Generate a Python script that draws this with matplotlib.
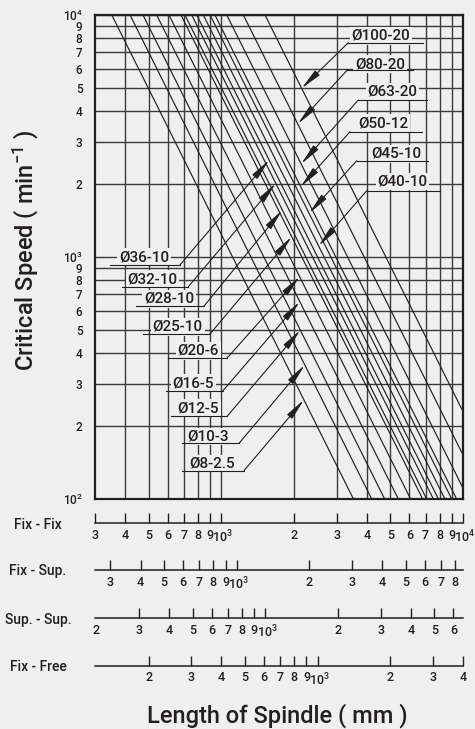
import matplotlib
matplotlib.use('Agg')
import matplotlib.pyplot as plt
from matplotlib.ticker import FixedLocator, FixedFormatter, NullLocator

plt.rcParams['font.family'] = ['Roboto', 'DejaVu Sans']
plt.rcParams['font.weight'] = 'medium'
plt.rcParams['mathtext.fontset'] = 'custom'
plt.rcParams['mathtext.rm'] = 'Roboto:weight=medium'
plt.rcParams['mathtext.it'] = 'Roboto:weight=medium'
plt.rcParams['mathtext.bf'] = 'Roboto:bold'

# screw sizes, smallest to largest
sizes = ['Ø8-2.5', 'Ø10-3', 'Ø12-5', 'Ø16-5', 'Ø20-6', 'Ø25-10', 'Ø28-10',
         'Ø32-10', 'Ø36-10', 'Ø40-10', 'Ø45-10', 'Ø50-12', 'Ø63-20',
         'Ø80-20', 'Ø100-20']
# fix-fix length (mm) where each size reaches 10^4 min^-1
len_at_10k = [352, 419, 474, 540, 607, 681, 707, 754, 791, 842, 898, 941,
              1053, 1233, 1516]

# speed axis
speed_ticks = [100, 200, 300, 400, 500, 600, 700, 800, 900,
               1000, 2000, 3000, 4000, 5000, 6000, 7000, 8000, 9000, 10000]
length_grid = [400, 500, 600, 700, 800, 900, 1000, 2000, 3000, 4000,
               5000, 6000, 7000, 8000, 9000]

# mounting scales under the chart (length factor relative to fix-fix)
mountings = ['Fix - Fix', 'Fix - Sup.', 'Sup. - Sup.', 'Fix - Free']
mount_factor = [1.0, 0.864, 0.657, 0.400]
mount_ticks = [
    [300, 400, 500, 600, 700, 800, 900, 1000, 2000, 3000, 4000, 5000,
     6000, 7000, 8000, 9000, 10000],
    [300, 400, 500, 600, 700, 800, 900, 1000, 2000, 3000, 4000, 5000,
     6000, 7000, 8000],
    [200, 300, 400, 500, 600, 700, 800, 900, 1000, 2000, 3000, 4000,
     5000, 6000],
    [200, 300, 400, 500, 600, 700, 800, 900, 1000, 2000, 3000, 4000],
]

# callouts: (size, text centre, underline x0, x1, y, speed at arrow tip)
upper_labels = [
    ('Ø100-20', (4572, 8190), 3354, 6815, 7685, 4980),
    ('Ø80-20', (4537, 6256), 3322, 6231, 5926, 3545),
    ('Ø63-20', (5110, 4820), 3690, 7080, 4455, 2423),
    ('Ø50-12', (4668, 3569), 3409, 6750, 3295, 1952),
    ('Ø45-10', (5275, 2665), 3633, 7190, 2500, 1516),
    ('Ø40-10', (5623, 2048), 3997, 8038, 1879, 1111),
]
lower_labels = [
    ('Ø36-10', (479, 997), 346, 674, 927, 2517),
    ('Ø32-10', (519, 809), 387, 730, 754, 2016),
    ('Ø28-10', (608, 671), 443, 848, 627, 1564),
    ('Ø25-10', (660, 515), 473, 898, 481, 1213),
    ('Ø20-6', (803, 410), 603, 1053, 381, 829),
    ('Ø16-5', (766, 301), 590, 1013, 279.5, 654),
    ('Ø12-5', (803, 237), 617, 1058, 220, 499),
    ('Ø10-3', (883, 181), 686, 1184, 170, 358),
    ('Ø8-2.5', (917, 140), 686, 1241, 131, 257),
]

bg = '#efefef'
ink = '#231f20'
W, H = 475, 729

fig = plt.figure(figsize=(W / 100, H / 100), dpi=100, facecolor=bg)
ax = fig.add_axes([95 / W, 1 - 499 / H, 368 / W, 484 / H])
ax.set_facecolor(bg)
ax.set_xscale('log')
ax.set_yscale('log')
ax.set_xlim(300, 10000)
ax.set_ylim(100, 10000)

ax.xaxis.set_major_locator(FixedLocator(length_grid))
ax.xaxis.set_minor_locator(NullLocator())
ax.set_xticklabels([])
ax.yaxis.set_major_locator(FixedLocator(speed_ticks))
ax.yaxis.set_minor_locator(NullLocator())


def short_label(v):
    s = str(int(v))
    if s.strip('0') == '1':
        return '$\\;10^{%d}$' % (len(s) - 1)
    return s[0]


ax.yaxis.set_major_formatter(FixedFormatter(
    [short_label(v).replace('\\;', '') for v in speed_ticks]))
ax.tick_params(length=0, pad=9, labelsize=8.5, colors=ink)
ax.grid(True, color='#3c3a3a', lw=1.0, zorder=0)
ax.set_axisbelow(True)
for s in ax.spines.values():
    s.set_color(ink)
    s.set_linewidth(1.6)

for L0 in len_at_10k:
    ax.plot([L0, 10 * L0], [10000, 100], color=ink, lw=0.85, zorder=2)

box = dict(boxstyle='square,pad=0.12', fc=bg, ec='none')
arrow = dict(arrowstyle='-|>,head_length=1.3,head_width=0.2', color=ink,
             lw=0.8, shrinkA=0, shrinkB=0)


def tip(name, n):
    return len_at_10k[sizes.index(name)] * (10000 / n) ** 0.5, n


for name, (tx, ty), x0, x1, uy, tn in upper_labels:
    ax.text(tx, ty, name, ha='center', va='center', fontsize=11,
            color=ink, bbox=box, zorder=4)
    ax.plot([x0, x1], [uy, uy], color=ink, lw=0.8, zorder=4)
    ax.annotate('', xy=tip(name, tn), xytext=(x0, uy), arrowprops=arrow,
                zorder=5)

for name, (tx, ty), x0, x1, uy, tn in lower_labels:
    ax.text(tx, ty, name, ha='center', va='center', fontsize=11,
            color=ink, bbox=box, zorder=4)
    ax.plot([x0, x1], [uy, uy], color=ink, lw=0.8, zorder=4)
    ax.annotate('', xy=tip(name, tn), xytext=(x1, uy), arrowprops=arrow,
                zorder=5)

# mounting scales
line_y = [523.3, 570, 618.3, 665.7]
for name, f, ticks, yl in zip(mountings, mount_factor, mount_ticks, line_y):
    sa = fig.add_axes([95 / W, 1 - yl / H, 368 / W, 12 / H])
    sa.patch.set_visible(False)
    sa.set_xscale('log')
    sa.set_xlim(300 * f, 10000 * f)
    sa.xaxis.set_major_locator(FixedLocator(ticks))
    sa.xaxis.set_minor_locator(NullLocator())
    sa.xaxis.set_major_formatter(FixedFormatter([short_label(v) for v in ticks]))
    sa.set_yticks([])
    for side in ('top', 'left', 'right'):
        sa.spines[side].set_visible(False)
    sa.spines['bottom'].set_color(ink)
    sa.spines['bottom'].set_linewidth(1.1)
    sa.tick_params(axis='x', direction='in', length=7.5, width=1.0,
                   color=ink, labelcolor=ink, labelsize=9, pad=4)
    if name == 'Sup. - Sup.':
        # the "2" sits at the left end of the line, without a tick
        sa.xaxis.get_major_ticks()[0].tick1line.set_visible(False)
    fig.text(38 / W, 1 - (yl + 1.5) / H, name, ha='center', va='center',
             fontsize=10, color=ink)

fig.text(26 / W, 1 - 250 / H, 'Critical Speed ( min$^{-1}$ )', rotation=90,
         ha='center', va='center', fontsize=17, color=ink)
fig.text(277 / W, 1 - 716 / H, 'Length of Spindle ( mm )', ha='center',
         va='center', fontsize=17, color=ink)

fig.savefig('out.png', dpi=100, facecolor=bg)
